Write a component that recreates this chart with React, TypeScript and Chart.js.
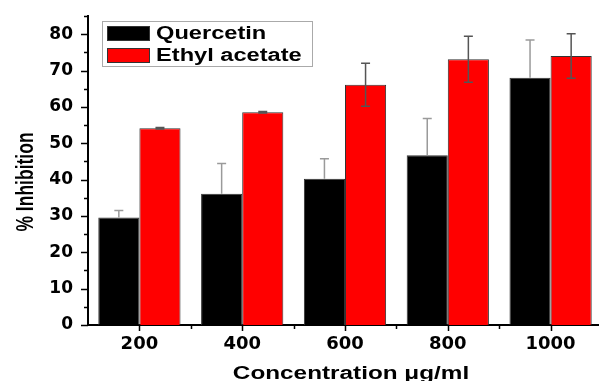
import React, { useEffect, useRef } from "react";
import { Chart, registerables } from "chart.js";

Chart.register(...registerables);

const categories = ["200", "400", "600", "800", "1000"];
const quercetin = [29.6, 36.1, 40.2, 46.7, 68.0];
const quercetinErr = [1.9, 8.3, 5.5, 10.1, 10.4];
const ethylAcetate = [54.1, 58.5, 66.1, 73.1, 74.0];
const ethylAcetateErr = [0.2, 0.2, 5.9, 6.3, 6.1];
const yTickValues = [0, 10, 20, 30, 40, 50, 60, 70, 80];
const xTitle = "Concentration \u03bcg/ml";
const yTitle = "% Inhibition";

const FONT = "'DejaVu Sans', 'Liberation Sans', Arial, sans-serif";
const ARIAL = "'Liberation Sans', Arial, sans-serif";
const STRETCH = 1.35;

const errorBarsPlugin = {
  id: "errorBars",
  afterDatasetsDraw(chart: any) {
    const ctx = chart.ctx;
    const y = chart.scales.y;
    chart.data.datasets.forEach((ds: any, di: number) => {
      const meta = chart.getDatasetMeta(di);
      const errs: number[] = ds.errors || [];
      const both = ds.errorBoth;
      meta.data.forEach((el: any, i: number) => {
        const v = ds.data[i];
        const e = errs[i] || 0;
        const yTop = y.getPixelForValue(v + e);
        const yBot = both ? y.getPixelForValue(v - e) : y.getPixelForValue(v);
        ctx.save();
        ctx.strokeStyle = ds.errorColor || "#777";
        ctx.lineWidth = 1.5;
        ctx.beginPath();
        ctx.moveTo(el.x, yTop);
        ctx.lineTo(el.x, yBot);
        ctx.moveTo(el.x - 4.5, yTop);
        ctx.lineTo(el.x + 4.5, yTop);
        if (both) {
          ctx.moveTo(el.x - 4.5, yBot);
          ctx.lineTo(el.x + 4.5, yBot);
        }
        ctx.stroke();
        ctx.restore();
      });
    });
  },
};

function stretchedText(ctx: any, text: string, x: number, y: number, align: string, baseline: string) {
  ctx.save();
  ctx.translate(x, y);
  ctx.scale(STRETCH, 1);
  ctx.textAlign = align;
  ctx.textBaseline = baseline;
  ctx.fillText(text, 0, 0);
  ctx.restore();
}

const axisDecorPlugin = {
  id: "axisDecor",
  afterDraw(chart: any) {
    const ctx = chart.ctx;
    const x = chart.scales.x;
    const y = chart.scales.y;
    const area = chart.chartArea;
    ctx.save();
    ctx.strokeStyle = "#000";
    ctx.lineWidth = 1.5;
    ctx.beginPath();
    for (let v = 0; v <= 85; v += 5) {
      const py = Math.round(y.getPixelForValue(v)) + 0.5;
      const len = v % 10 === 0 ? 7 : 4;
      ctx.moveTo(area.left, py);
      ctx.lineTo(area.left - len, py);
    }
    for (let i = 0; i < categories.length; i++) {
      const px = Math.round(x.getPixelForValue(i)) + 0.5;
      ctx.moveTo(px, area.bottom);
      ctx.lineTo(px, area.bottom + 6);
      const pb = Math.round(x.getPixelForValue(i + 0.5)) + 0.5;
      ctx.moveTo(pb, area.bottom);
      ctx.lineTo(pb, area.bottom + 4);
    }
    ctx.stroke();

    // titles
    ctx.fillStyle = "#000";
    ctx.font = `bold 18px ${ARIAL}`;
    stretchedText(ctx, xTitle, 351, 379, "center", "alphabetic");

    ctx.save();
    ctx.translate(33, 182);
    ctx.rotate(-Math.PI / 2);
    ctx.scale(1, STRETCH);
    ctx.font = `bold 17.5px ${ARIAL}`;
    ctx.textAlign = "center";
    ctx.textBaseline = "alphabetic";
    ctx.fillText(yTitle, 0, 0);
    ctx.restore();

    // legend
    const lx = 102, ly = 21, lw = 210, lh = 45;
    ctx.fillStyle = "#fff";
    ctx.fillRect(lx, ly, lw, lh);
    ctx.strokeStyle = "#aaa";
    ctx.lineWidth = 1;
    ctx.strokeRect(lx + 0.5, ly + 0.5, lw, lh);
    chart.data.datasets.forEach((ds: any, di: number) => {
      const sy = 26 + di * 22;
      ctx.fillStyle = ds.backgroundColor;
      ctx.fillRect(107, sy, 43, 15);
      ctx.strokeStyle = "#333";
      ctx.strokeRect(107.5, sy + 0.5, 42, 14);
      ctx.fillStyle = "#000";
      ctx.font = `bold 17.5px ${ARIAL}`;
      stretchedText(ctx, ds.label, 156, sy + 8, "left", "middle");
    });
    ctx.restore();
  },
};

export default function App() {
  const ref = useRef<HTMLCanvasElement | null>(null);
  useEffect(() => {
    if (!ref.current) return;
    const chart = new Chart(ref.current, {
      type: "bar",
      data: {
        labels: categories,
        datasets: [
          {
            label: "Quercetin",
            data: quercetin,
            backgroundColor: "#000000",
            borderColor: "#333333",
            borderWidth: 1,
            categoryPercentage: 0.8,
            barPercentage: 1.0,
            errors: quercetinErr,
            errorBoth: false,
            errorColor: "#9a9a9a",
          } as any,
          {
            label: "Ethyl acetate",
            data: ethylAcetate,
            backgroundColor: "#ff0000",
            borderColor: "#333333",
            borderWidth: 1,
            categoryPercentage: 0.8,
            barPercentage: 1.0,
            errors: ethylAcetateErr,
            errorBoth: true,
            errorColor: "#555555",
          } as any,
        ],
      },
      options: {
        responsive: false,
        animation: false,
        devicePixelRatio: 1,
        layout: { padding: { left: 0, top: 16, right: 10, bottom: 0 } },
        plugins: { legend: { display: false }, tooltip: { enabled: false } },
        scales: {
          x: {
            grid: { display: false, drawTicks: false },
            border: { display: true, color: "#000", width: 2 },
            ticks: {
              color: "#000",
              padding: 9,
              font: { family: FONT, size: 18, weight: "bold" },
              maxRotation: 0,
            },
            afterFit: (s: any) => {
              s.height = 56;
              s.paddingLeft = 0;
              s.paddingRight = 0;
            },
          },
          y: {
            min: 0,
            max: 85,
            grid: { display: false, drawTicks: false },
            border: { display: true, color: "#000", width: 2 },
            afterBuildTicks: (s: any) => {
              s.ticks = yTickValues.map((v) => ({ value: v }));
            },
            ticks: {
              color: "#000",
              padding: 15,
              font: { family: FONT, size: 17, weight: "bold" },
              autoSkip: false,
            },
            afterFit: (s: any) => {
              s.width = 88;
              s.paddingTop = 0;
              s.paddingBottom = 0;
            },
          },
        },
      },
      plugins: [errorBarsPlugin, axisDecorPlugin],
    });
    return () => chart.destroy();
  }, []);
  return (
    <div
      style={{
        position: "fixed",
        left: 0,
        top: 0,
        width: 599,
        height: 381,
        overflow: "hidden",
        background: "#fff",
      }}
    >
      <canvas ref={ref} width={612} height={381} style={{ display: "block" }} />
    </div>
  );
}
